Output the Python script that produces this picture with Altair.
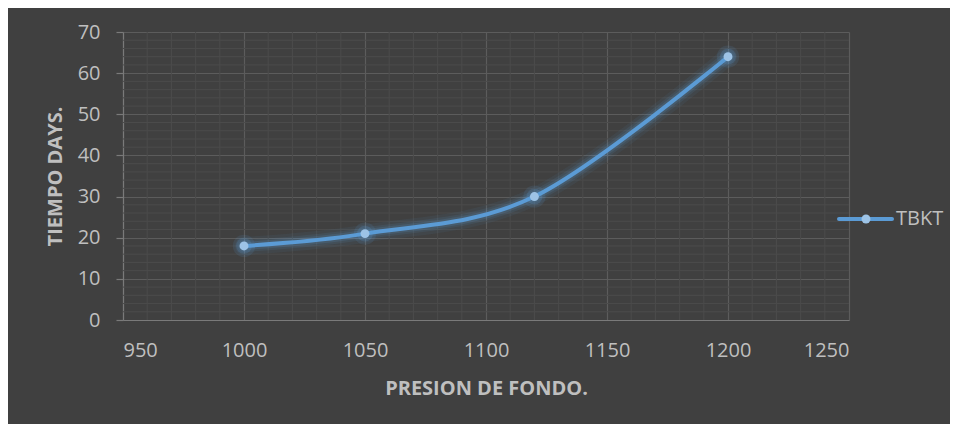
import altair as alt
import pandas as pd

# Data
presion = [1000, 1050, 1120, 1200]
tiempo = [18, 21, 30, 64]
series_name = "TBKT"

x_major = [950, 1000, 1050, 1100, 1150, 1200, 1250]
y_major = [0, 10, 20, 30, 40, 50, 60, 70]
x_minor = [v for v in range(950, 1251, 10) if v % 50 != 0]
y_minor = [v for v in range(0, 71, 2) if v % 10 != 0]

df = pd.DataFrame({"x": presion, "y": tiempo})
df_xm = pd.DataFrame({"x": x_minor})
df_ym = pd.DataFrame({"y": y_minor})

W, H = 726, 288
BG = "#404040"
TXT = "#bfbfbf"
LINE = "#5b9bd5"
DOT = "#9dc3e6"
FONT = "Open Sans"

xscale = alt.Scale(domain=[950, 1250], nice=False, zero=False)
yscale = alt.Scale(domain=[0, 70], nice=False)

minor_x = alt.Chart(df_xm).mark_rule(color="#4b4b4b", strokeWidth=1).encode(
    x=alt.X("x:Q", scale=xscale)
)
minor_y = alt.Chart(df_ym).mark_rule(color="#4b4b4b", strokeWidth=1).encode(
    y=alt.Y("y:Q", scale=yscale)
)

base = alt.Chart(df).encode(
    x=alt.X(
        "x:Q",
        scale=xscale,
        axis=alt.Axis(
            values=x_major,
            format="d",
            grid=True,
            gridColor="#5c5c5c",
            gridWidth=1.2,
            ticks=False,
            tickSize=0,
            domainColor="#7a7a7a",
            domainWidth=1.2,
            labelColor=TXT,
            labelFont=FONT,
            labelFontSize=20,
            labelPadding=20,
            title="PRESION DE FONDO.",
            titleColor=TXT,
            titleFont=FONT,
            titleFontSize=20,
            titleFontWeight="bold",
            titleX=W / 2,
            titleY=68,
            titleAlign="center",
            titleBaseline="middle",
        ),
    ),
    y=alt.Y(
        "y:Q",
        scale=yscale,
        axis=alt.Axis(
            values=y_major,
            format="d",
            grid=True,
            gridColor="#5c5c5c",
            gridWidth=1.2,
            ticks=True,
            tickSize=7,
            tickColor="#7a7a7a",
            tickWidth=1.2,
            domainColor="#7a7a7a",
            domainWidth=1.2,
            labelColor=TXT,
            labelFont=FONT,
            labelFontSize=20,
            labelPadding=16,
            title="TIEMPO DAYS.",
            titleColor=TXT,
            titleFont=FONT,
            titleFontSize=20,
            titleFontWeight="bold",
            titleAngle=-90,
            titleX=-68,
            titleY=H / 2,
            titleAlign="center",
            titleBaseline="middle",
        ),
    ),
)

glow1 = base.mark_line(interpolate="cardinal", color=LINE, strokeWidth=18, opacity=0.07, strokeCap="round")
glow2 = base.mark_line(interpolate="cardinal", color=LINE, strokeWidth=12, opacity=0.11, strokeCap="round")
glow3 = base.mark_line(interpolate="cardinal", color=LINE, strokeWidth=8, opacity=0.16, strokeCap="round")
line = base.mark_line(interpolate="cardinal", color=LINE, strokeWidth=4, strokeCap="round")
pglow1 = base.mark_circle(color=LINE, size=500, opacity=0.12)
pglow2 = base.mark_circle(color=LINE, size=250, opacity=0.2)
pts = base.mark_circle(color=DOT, size=80, opacity=1)

# Legend (drawn manually to show line + marker)
leg_df = pd.DataFrame({"label": [series_name]})
leg_line = alt.Chart(leg_df).mark_rule(color=LINE, strokeWidth=4, strokeCap="round").encode(
    x=alt.value(716), x2=alt.value(769), y=alt.value(187)
)
leg_dot = alt.Chart(leg_df).mark_circle(color=DOT, size=80, opacity=1).encode(
    x=alt.value(743), y=alt.value(187)
)
leg_text = alt.Chart(leg_df).mark_text(
    align="left", baseline="middle", font=FONT, fontSize=20, color=TXT
).encode(x=alt.value(773), y=alt.value(187), text="label:N")

chart = alt.layer(
    minor_x, minor_y, glow1, glow2, glow3, line, pglow1, pglow2, pts, leg_line, leg_dot, leg_text
).properties(
    width=W,
    height=H,
    background=BG,
    padding={"left": 115, "top": 24, "right": 101, "bottom": 104},
    autosize=alt.AutoSizeParams(type="none"),
).configure_view(stroke=None)

chart.save("out.html", embed_options={"renderer": "svg", "actions": False})
